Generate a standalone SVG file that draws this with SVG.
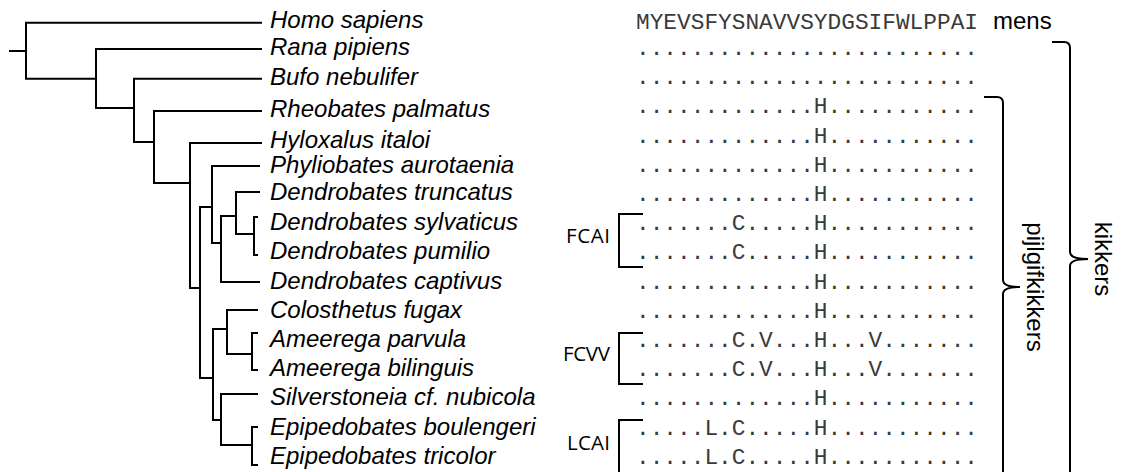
<svg xmlns="http://www.w3.org/2000/svg" width="1121" height="472" viewBox="0 0 1121 472">
<style>
.br{fill:none;stroke:#000;stroke-width:2;stroke-linejoin:miter}
.sp{font-family:"Liberation Sans",Arial,sans-serif;font-style:italic;font-size:24px;fill:#000}
.sq{font-family:"Liberation Mono","Courier New",monospace;font-size:22.8px;fill:#3a3a3a}
.gl{font-family:"Liberation Sans",Arial,sans-serif;font-size:24px;fill:#000}
.mt{font-family:"Open Sans","Liberation Sans",sans-serif;font-size:20.5px;fill:#000}
</style>
<rect width="1121" height="472" fill="#fff"/>
<g id="connectors" class="br">
<path d="M9,51 H26"/>
<path d="M262,22.7 H26 V78.7 H96"/>
<path d="M262,49 H96 V108 H134"/>
<path d="M262,78.7 H134 V142 H154"/>
<path d="M262,111 H154 V183 H190"/>
<path d="M262,143 H190 V288 H200"/>
<path d="M212,207 H200 V378 H213"/>
<path d="M260,166 H212 V243 H221"/>
<path d="M236,216 H221 V282 H260"/>
<path d="M260,192 H236 V234 H254"/>
<path d="M258,217 H254 V255 H258"/>
<path d="M227,329 H213 V420 H221"/>
<path d="M258,310 H227 V354 H252"/>
<path d="M258,333 H252 V370 H258"/>
<path d="M258,394 H221 V445 H252"/>
<path d="M258,427 H252 V465 H258"/>
</g>
<g id="homo"><text class="sp" x="270" y="28">Homo sapiens</text><text class="sq" x="636" y="29" textLength="342">MYEVSFYSNAVVSYDGSIFWLPPAI</text><text class="gl" x="993" y="29">mens</text></g>
<g id="rana"><text class="sp" x="270" y="55">Rana pipiens</text><text class="sq" x="636" y="55" textLength="342">.........................</text></g>
<g id="bufo"><text class="sp" x="270" y="85">Bufo nebulifer</text><text class="sq" x="636" y="84.2" textLength="342">.........................</text></g>
<g id="rheobates"><text class="sp" x="270" y="117">Rheobates palmatus</text><text class="sq" x="636" y="113.4" textLength="342">.............H...........</text></g>
<g id="hyloxalus"><text class="sp" x="270" y="148">Hyloxalus italoi</text><text class="sq" x="636" y="142.6" textLength="342">.............H...........</text></g>
<g id="phyllobates"><text class="sp" x="270" y="173">Phyliobates aurotaenia</text><text class="sq" x="636" y="171.8" textLength="342">.............H...........</text></g>
<g id="truncatus"><text class="sp" x="270" y="200">Dendrobates truncatus</text><text class="sq" x="636" y="201" textLength="342">.............H...........</text></g>
<g id="sylvaticus"><text class="sp" x="270" y="230">Dendrobates sylvaticus</text><text class="sq" x="636" y="230.2" textLength="342">.......C.....H...........</text></g>
<g id="pumilio"><text class="sp" x="270" y="259">Dendrobates pumilio</text><text class="sq" x="636" y="259.4" textLength="342">.......C.....H...........</text></g>
<g id="captivus"><text class="sp" x="270" y="289">Dendrobates captivus</text><text class="sq" x="636" y="288.6" textLength="342">.............H...........</text></g>
<g id="colosthetus"><text class="sp" x="270" y="318">Colosthetus fugax</text><text class="sq" x="636" y="317.8" textLength="342">.............H...........</text></g>
<g id="parvula"><text class="sp" x="270" y="347">Ameerega parvula</text><text class="sq" x="636" y="347" textLength="342">.......C.V...H...V.......</text></g>
<g id="bilinguis"><text class="sp" x="270" y="376">Ameerega bilinguis</text><text class="sq" x="636" y="376.2" textLength="342">.......C.V...H...V.......</text></g>
<g id="silverstoneia"><text class="sp" x="270" y="405">Silverstoneia cf. nubicola</text><text class="sq" x="636" y="405.4" textLength="342">.............H...........</text></g>
<g id="boulengeri"><text class="sp" x="270" y="435">Epipedobates boulengeri</text><text class="sq" x="636" y="434.6" textLength="342">.....L.C.....H...........</text></g>
<g id="tricolor"><text class="sp" x="270" y="464">Epipedobates tricolor</text><text class="sq" x="636" y="463.8" textLength="342">.....L.C.....H...........</text></g>
<g id="fcai"><text class="mt" x="566" y="243" textLength="44">FCAI</text><path class="br" d="M643,214 H619 V267 H643"/></g>
<g id="fcvv"><text class="mt" x="563" y="361" textLength="47">FCVV</text><path class="br" d="M643,333 H619 V384 H643"/></g>
<g id="lcai"><text class="mt" x="567" y="450" textLength="43">LCAI</text><path class="br" d="M643,420 H619 V474 H643"/></g>
<g id="pijlgifkikkers"><path class="br" d="M984,97 H997 Q1003,97 1003,103 V280 Q1003,287 1020,287 Q1003,287 1003,294 V480"/><text class="gl" transform="translate(1032,287) rotate(90)" x="0" y="5" text-anchor="middle">pijlgifkikkers</text></g>
<g id="kikkers"><path class="br" d="M1052,42 H1064 Q1070,42 1070,48 V252 Q1070,259 1088,259 Q1070,259 1070,266 V480"/><text class="gl" transform="translate(1105,259) rotate(90)" x="0" y="10" text-anchor="middle">kikkers</text></g>
</svg>
